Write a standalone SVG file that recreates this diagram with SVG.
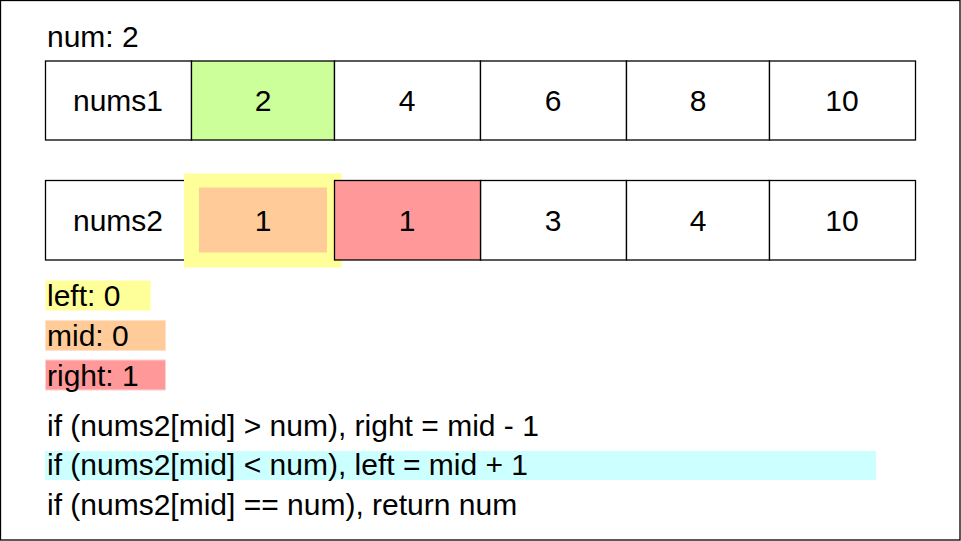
<svg xmlns="http://www.w3.org/2000/svg" width="961" height="541" viewBox="0 0 961 541">
<style>
text{font-family:"Liberation Sans",Arial,sans-serif;font-size:30px;fill:#000}
.c{text-anchor:middle}
.cell{stroke:#000;stroke-width:1.3}
</style>
<rect x="0.5" y="0.5" width="959.5" height="539.5" fill="#fff" stroke="#000" stroke-width="1.3"/>
<text x="47" y="47">num: 2</text>
<g id="nums1">
<rect class="cell" x="45.5" y="61" width="146" height="79" fill="#fff"/>
<rect class="cell" x="191.5" y="61" width="143" height="79" fill="#ccff99"/>
<rect class="cell" x="334.5" y="61" width="146" height="79" fill="#fff"/>
<rect class="cell" x="480.5" y="61" width="146" height="79" fill="#fff"/>
<rect class="cell" x="626.5" y="61" width="143" height="79" fill="#fff"/>
<rect class="cell" x="769.5" y="61" width="146" height="79" fill="#fff"/>
<text class="c" x="118" y="111">nums1</text>
<text class="c" x="263" y="111">2</text>
<text class="c" x="407" y="111">4</text>
<text class="c" x="553" y="111">6</text>
<text class="c" x="698" y="111">8</text>
<text class="c" x="842" y="111">10</text>
</g>
<g id="nums2">
<rect class="cell" x="45.5" y="180.5" width="146" height="79.5" fill="#fff"/>
<rect class="cell" x="191.5" y="180.5" width="143" height="79.5" fill="#fff"/>
<rect class="cell" x="480.5" y="180.5" width="146" height="79.5" fill="#fff"/>
<rect class="cell" x="626.5" y="180.5" width="143" height="79.5" fill="#fff"/>
<rect class="cell" x="769.5" y="180.5" width="146" height="79.5" fill="#fff"/>
<rect x="184" y="173.5" width="157.5" height="94" fill="#ffff99"/>
<rect x="199" y="187.5" width="128" height="65" fill="#ffcc99"/>
<rect class="cell" x="334.5" y="180.5" width="146" height="79.5" fill="#ff9999"/>
<text x="118" y="231" class="c">nums2</text>
<text class="c" x="263" y="231">1</text>
<text class="c" x="407" y="231">1</text>
<text class="c" x="553" y="231">3</text>
<text class="c" x="698" y="231">4</text>
<text class="c" x="842" y="231">10</text>
</g>
<g id="legend">
<rect x="45.5" y="280.5" width="105" height="30" fill="#ffff99"/>
<rect x="45.5" y="320.5" width="120" height="30" fill="#ffcc99" stroke="#ffe0c8" stroke-width="1"/>
<rect x="45.5" y="360" width="120" height="30" fill="#ff9999" stroke="#ffd0d0" stroke-width="1"/>
<text x="47" y="306">left: 0</text>
<text x="47" y="346">mid: 0</text>
<text x="47" y="386">right: 1</text>
</g>
<g id="code">
<rect x="45" y="451" width="831" height="29" fill="#ccffff"/>
<text x="47" y="436">if (nums2[mid] &gt; num), right = mid - 1</text>
<text x="47" y="475">if (nums2[mid] &lt; num), left = mid + 1</text>
<text x="47" y="515">if (nums2[mid] == num), return num</text>
</g>
<g id="connectors"/>
</svg>
